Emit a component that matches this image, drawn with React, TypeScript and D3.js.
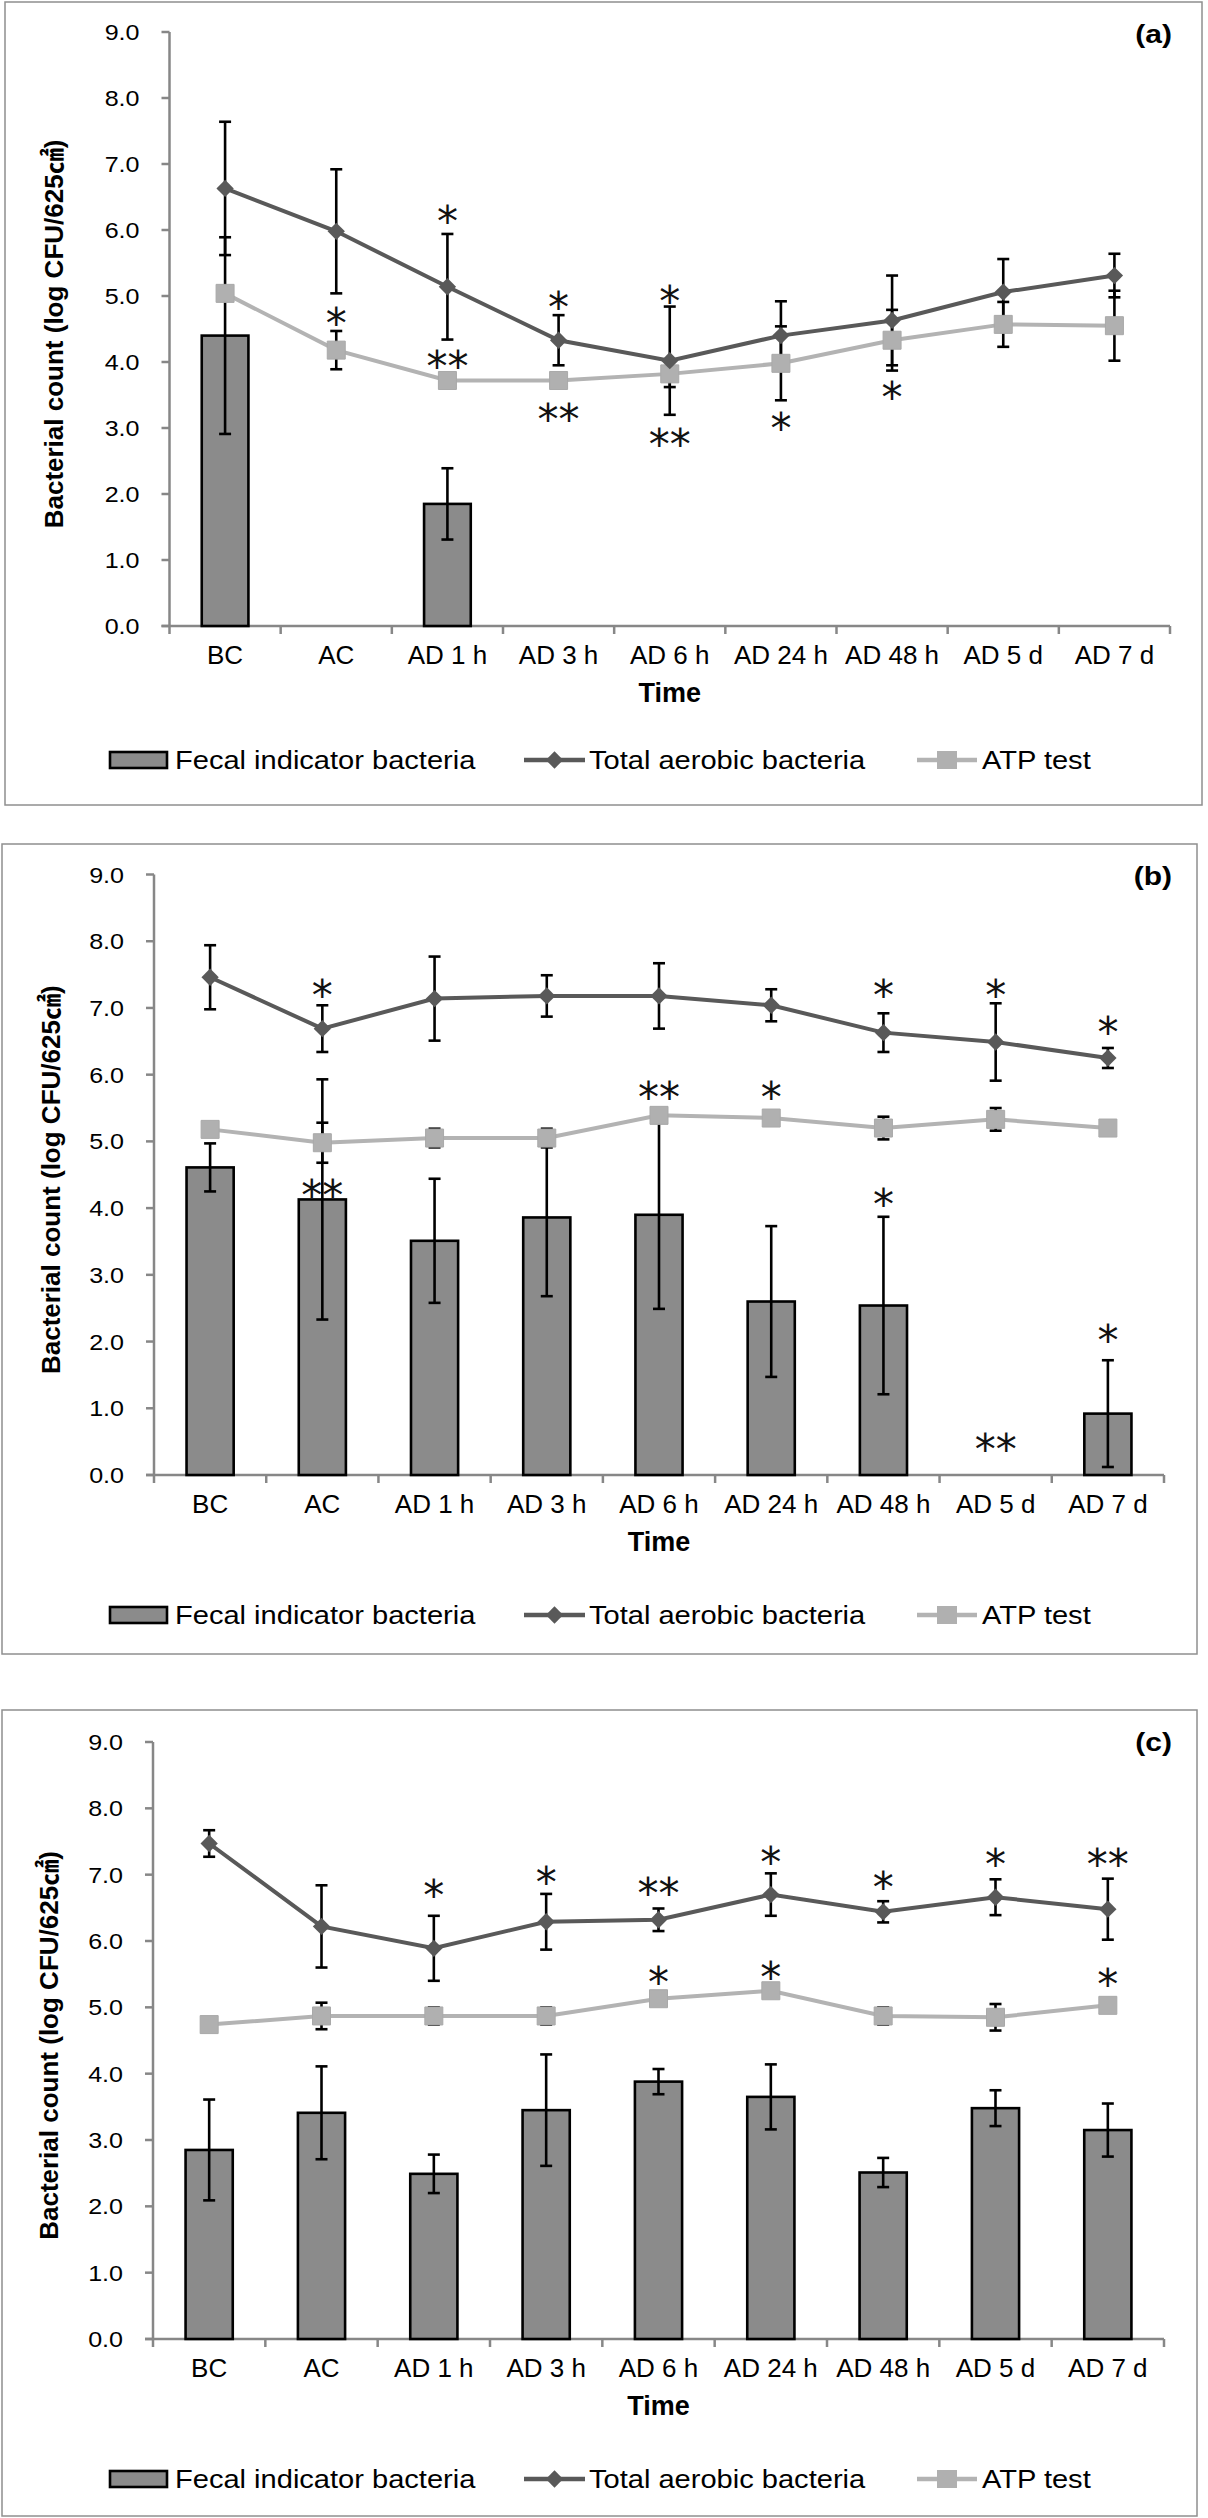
import React from 'react';
import * as d3 from 'd3';

const categories = ['BC', 'AC', 'AD 1 h', 'AD 3 h', 'AD 6 h', 'AD 24 h', 'AD 48 h', 'AD 5 d', 'AD 7 d'];
const yTickValues = [0, 1, 2, 3, 4, 5, 6, 7, 8, 9];
const yTickLabels = ['0.0', '1.0', '2.0', '3.0', '4.0', '5.0', '6.0', '7.0', '8.0', '9.0'];
const seriesNames = ['Fecal indicator bacteria', 'Total aerobic bacteria', 'ATP test'];
const panelLabels = ['(a)', '(b)', '(c)'];

// (a)
const fecalA = [4.4, 0, 1.85, 0, 0, 0, 0, 0, 0];
const fecalErrA = [1.49, 0, 0.54, 0, 0, 0, 0, 0, 0];
const tabA = [6.63, 5.98, 5.14, 4.33, 4.02, 4.4, 4.63, 5.06, 5.31];
const tabErrA = [1.01, 0.94, 0.8, 0.38, 0.82, 0.52, 0.68, 0.5, 0.33];
const atpA = [5.04, 4.18, 3.72, 3.72, 3.82, 3.98, 4.33, 4.57, 4.55];
const atpErrA = [0, 0.29, 0, 0, 0.2, 0.56, 0.46, 0.34, 0.53];
const notesA = [
  { c: 'AC', v: 4.72, t: '*' },
  { c: 'AD 1 h', v: 6.27, t: '*' },
  { c: 'AD 1 h', v: 4.08, t: '**' },
  { c: 'AD 3 h', v: 4.97, t: '*' },
  { c: 'AD 3 h', v: 3.28, t: '**' },
  { c: 'AD 6 h', v: 5.06, t: '*' },
  { c: 'AD 6 h', v: 2.89, t: '**' },
  { c: 'AD 24 h', v: 3.14, t: '*' },
  { c: 'AD 48 h', v: 3.6, t: '*' },
];

// (b)
const fecalB = [4.61, 4.13, 3.51, 3.86, 3.9, 2.6, 2.54, 0, 0.92];
const fecalErrB = [0.36, 1.8, 0.93, 1.18, 1.41, 1.13, 1.33, 0, 0.8];
const tabB = [7.46, 6.69, 7.14, 7.18, 7.18, 7.04, 6.63, 6.49, 6.25];
const tabErrB = [0.48, 0.35, 0.63, 0.31, 0.49, 0.24, 0.29, 0.58, 0.15];
const atpB = [5.18, 4.98, 5.05, 5.05, 5.39, 5.35, 5.2, 5.33, 5.2];
const atpErrB = [0, 0.3, 0.14, 0.14, 0, 0, 0.17, 0.17, 0];
const notesB = [
  { c: 'AC', v: 7.33, t: '*' },
  { c: 'AC', v: 4.33, t: '**' },
  { c: 'AD 6 h', v: 5.8, t: '**' },
  { c: 'AD 24 h', v: 5.8, t: '*' },
  { c: 'AD 48 h', v: 7.33, t: '*' },
  { c: 'AD 48 h', v: 4.2, t: '*' },
  { c: 'AD 5 d', v: 7.33, t: '*' },
  { c: 'AD 5 d', v: 0.52, t: '**' },
  { c: 'AD 7 d', v: 6.77, t: '*' },
  { c: 'AD 7 d', v: 2.16, t: '*' },
];

// (c)
const fecalC = [2.85, 3.41, 2.49, 3.45, 3.88, 3.65, 2.51, 3.48, 3.15];
const fecalErrC = [0.76, 0.7, 0.29, 0.84, 0.19, 0.49, 0.22, 0.27, 0.4];
const tabC = [7.47, 6.22, 5.89, 6.29, 6.32, 6.7, 6.44, 6.66, 6.48];
const tabErrC = [0.2, 0.62, 0.49, 0.42, 0.17, 0.32, 0.16, 0.27, 0.46];
const atpC = [4.74, 4.87, 4.87, 4.87, 5.13, 5.25, 4.87, 4.85, 5.03];
const atpErrC = [0, 0.2, 0.13, 0.13, 0, 0, 0.13, 0.2, 0];
const notesC = [
  { c: 'AD 1 h', v: 6.83, t: '*' },
  { c: 'AD 3 h', v: 7.03, t: '*' },
  { c: 'AD 6 h', v: 6.86, t: '**' },
  { c: 'AD 6 h', v: 5.52, t: '*' },
  { c: 'AD 24 h', v: 7.32, t: '*' },
  { c: 'AD 24 h', v: 5.6, t: '*' },
  { c: 'AD 48 h', v: 6.95, t: '*' },
  { c: 'AD 5 d', v: 7.29, t: '*' },
  { c: 'AD 7 d', v: 7.29, t: '**' },
  { c: 'AD 7 d', v: 5.48, t: '*' },
];

const FONT = '"Liberation Sans", Arial, "Noto Sans CJK KR", sans-serif';
const BAR = '#8b8b8b';
const TAB = '#595959';
const ATP = '#b3b3b3';
const AXIS = '#878787';

interface Layout {
  box: { x: number; y: number; w: number; h: number };
  left: number;
  right: number;
  top: number;
  bottom: number;
  titleX: number;
  legendY: number;
}

const layouts: Layout[] = [
  { box: { x: 5, y: 2, w: 1197, h: 803 }, left: 169.5, right: 1170, top: 32, bottom: 626, titleX: 63, legendY: 760 },
  { box: { x: 2, y: 844, w: 1195, h: 810 }, left: 154, right: 1164, top: 874.5, bottom: 1475, titleX: 60, legendY: 1615 },
  { box: { x: 2, y: 1710, w: 1195, h: 806 }, left: 153, right: 1164, top: 1742, bottom: 2339, titleX: 58, legendY: 2479 },
];

const diamond = d3.symbol().type(d3.symbolSquare).size(150)() as string;
const square = d3.symbol().type(d3.symbolSquare).size(324)() as string;

function WideText(props: { x: number; y: number; sx: number; anchor?: string; size: number; bold?: boolean; children: React.ReactNode }) {
  return (
    <text
      transform={`translate(${props.x},${props.y}) scale(${props.sx},1)`}
      textAnchor={props.anchor || 'start'}
      fontSize={props.size}
      fontWeight={props.bold ? 'bold' : 'normal'}
      fontFamily={FONT}
      fill="#000"
    >
      {props.children}
    </text>
  );
}

interface PanelProps {
  lay: Layout;
  label: string;
  fecal: number[];
  fecalErr: number[];
  tab: number[];
  tabErr: number[];
  atp: number[];
  atpErr: number[];
  notes: { c: string; v: number; t: string }[];
}

function Panel({ lay, label, fecal, fecalErr, tab, tabErr, atp, atpErr, notes }: PanelProps) {
  const x = d3.scaleBand<string>().domain(categories).range([lay.left, lay.right]);
  const y = d3.scaleLinear().domain([0, 9]).range([lay.bottom, lay.top]);
  const cx = (c: string) => (x(c) as number) + x.bandwidth() / 2;
  const barW = x.bandwidth() * 0.42;
  const line = d3
    .line<number>()
    .x((_, i) => cx(categories[i]))
    .y(d => y(d));

  const errBars = (vals: number[], errs: number[], key: string) =>
    vals.map((v, i) => {
      if (!errs[i] || !v) return null;
      const px = cx(categories[i]);
      const hi = y(v + errs[i]);
      const lo = y(v - errs[i]);
      return (
        <g key={key + i} stroke="#000" strokeWidth={2.6}>
          <line x1={px} x2={px} y1={hi} y2={lo} />
          <line x1={px - 6} x2={px + 6} y1={hi} y2={hi} />
          <line x1={px - 6} x2={px + 6} y1={lo} y2={lo} />
        </g>
      );
    });

  const ticksX = [...categories.map(c => x(c) as number), lay.right];
  const mid = (lay.top + lay.bottom) / 2;
  const ly = lay.legendY;

  return (
    <g>
      <rect x={lay.box.x} y={lay.box.y} width={lay.box.w} height={lay.box.h} fill="#fff" stroke="#8f8f8f" strokeWidth={1.5} />

      {/* axes */}
      <g stroke={AXIS} strokeWidth={2.5}>
        <line x1={lay.left} x2={lay.left} y1={lay.top} y2={lay.bottom} />
        {yTickValues.map(v => (
          <line key={v} x1={lay.left - 8} x2={lay.left} y1={y(v)} y2={y(v)} />
        ))}
        <line x1={lay.left - 8} x2={lay.right} y1={lay.bottom} y2={lay.bottom} />
        {ticksX.map((t, i) => (
          <line key={i} x1={t} x2={t} y1={lay.bottom} y2={lay.bottom + 8} />
        ))}
      </g>
      {yTickValues.map((v, i) => (
        <WideText key={v} x={lay.left - 30} y={y(v) + 8} sx={1.14} anchor="end" size={22}>
          {yTickLabels[i]}
        </WideText>
      ))}
      {categories.map(c => (
        <text key={c} x={cx(c)} y={lay.bottom + 38} textAnchor="middle" fontSize={26} fontFamily={FONT}>
          {c}
        </text>
      ))}
      <text x={(lay.left + lay.right) / 2} y={lay.bottom + 76} textAnchor="middle" fontSize={27} fontWeight="bold" fontFamily={FONT}>
        Time
      </text>
      <text
        transform={`translate(${lay.titleX},${mid + 5}) rotate(-90)`}
        textAnchor="middle"
        fontSize={26}
        fontWeight="bold"
        fontFamily={FONT}
      >
        Bacterial count (log CFU/625㎠)
      </text>
      <WideText x={1172} y={lay.box.y + 41} sx={1.2} anchor="end" size={25} bold>
        {label}
      </WideText>

      {/* bars */}
      {fecal.map((v, i) =>
        v > 0 ? (
          <rect
            key={'b' + i}
            x={cx(categories[i]) - barW / 2}
            y={y(v)}
            width={barW}
            height={y(0) - y(v)}
            fill={BAR}
            stroke="#000"
            strokeWidth={2.6}
          />
        ) : null
      )}
      {errBars(fecal, fecalErr, 'fe')}
      {errBars(tab, tabErr, 'te')}
      {errBars(atp, atpErr, 'ae')}

      {/* lines */}
      <path d={line(atp) as string} fill="none" stroke={ATP} strokeWidth={4} />
      {atp.map((v, i) => (
        <path key={'as' + i} d={square} transform={`translate(${cx(categories[i])},${y(v)})`} fill="#b0b0b0" stroke="#a9a9a9" strokeWidth={1} />
      ))}
      <path d={line(tab) as string} fill="none" stroke={TAB} strokeWidth={4} />
      {tab.map((v, i) => (
        <path key={'ts' + i} d={diamond} transform={`translate(${cx(categories[i])},${y(v)}) rotate(45)`} fill={TAB} />
      ))}

      {/* significance marks */}
      {notes.map((n, i) => (
        <text
          key={'n' + i}
          x={cx(n.c)}
          y={y(n.v) + 24}
          textAnchor="middle"
          fontSize={42}
          fontFamily='"DejaVu Sans", sans-serif'
          fill="#111"
        >
          {n.t}
        </text>
      ))}

      {/* legend */}
      <rect x={110} y={ly - 8} width={57} height={16} fill={BAR} stroke="#000" strokeWidth={2.6} />
      <WideText x={175} y={ly + 9} sx={1.14} size={25.5}>
        {seriesNames[0]}
      </WideText>
      <line x1={524} x2={585} y1={ly} y2={ly} stroke={TAB} strokeWidth={4.5} />
      <path d={diamond} transform={`translate(554.5,${ly}) rotate(45)`} fill={TAB} />
      <WideText x={589} y={ly + 9} sx={1.14} size={25.5}>
        {seriesNames[1]}
      </WideText>
      <line x1={917} x2={977} y1={ly} y2={ly} stroke={ATP} strokeWidth={4.5} />
      <rect x={937} y={ly - 9} width={20} height={18} fill="#b0b0b0" />
      <WideText x={982} y={ly + 9} sx={1.14} size={25.5}>
        {seriesNames[2]}
      </WideText>
    </g>
  );
}

export default function App() {
  return (
    <svg width={1208} height={2518} style={{ position: 'absolute', left: 0, top: 0, background: '#fff' }}>
      <rect width={1208} height={2518} fill="#fff" />
      <Panel lay={layouts[0]} label={panelLabels[0]} fecal={fecalA} fecalErr={fecalErrA} tab={tabA} tabErr={tabErrA} atp={atpA} atpErr={atpErrA} notes={notesA} />
      <Panel lay={layouts[1]} label={panelLabels[1]} fecal={fecalB} fecalErr={fecalErrB} tab={tabB} tabErr={tabErrB} atp={atpB} atpErr={atpErrB} notes={notesB} />
      <Panel lay={layouts[2]} label={panelLabels[2]} fecal={fecalC} fecalErr={fecalErrC} tab={tabC} tabErr={tabErrC} atp={atpC} atpErr={atpErrC} notes={notesC} />
    </svg>
  );
}
